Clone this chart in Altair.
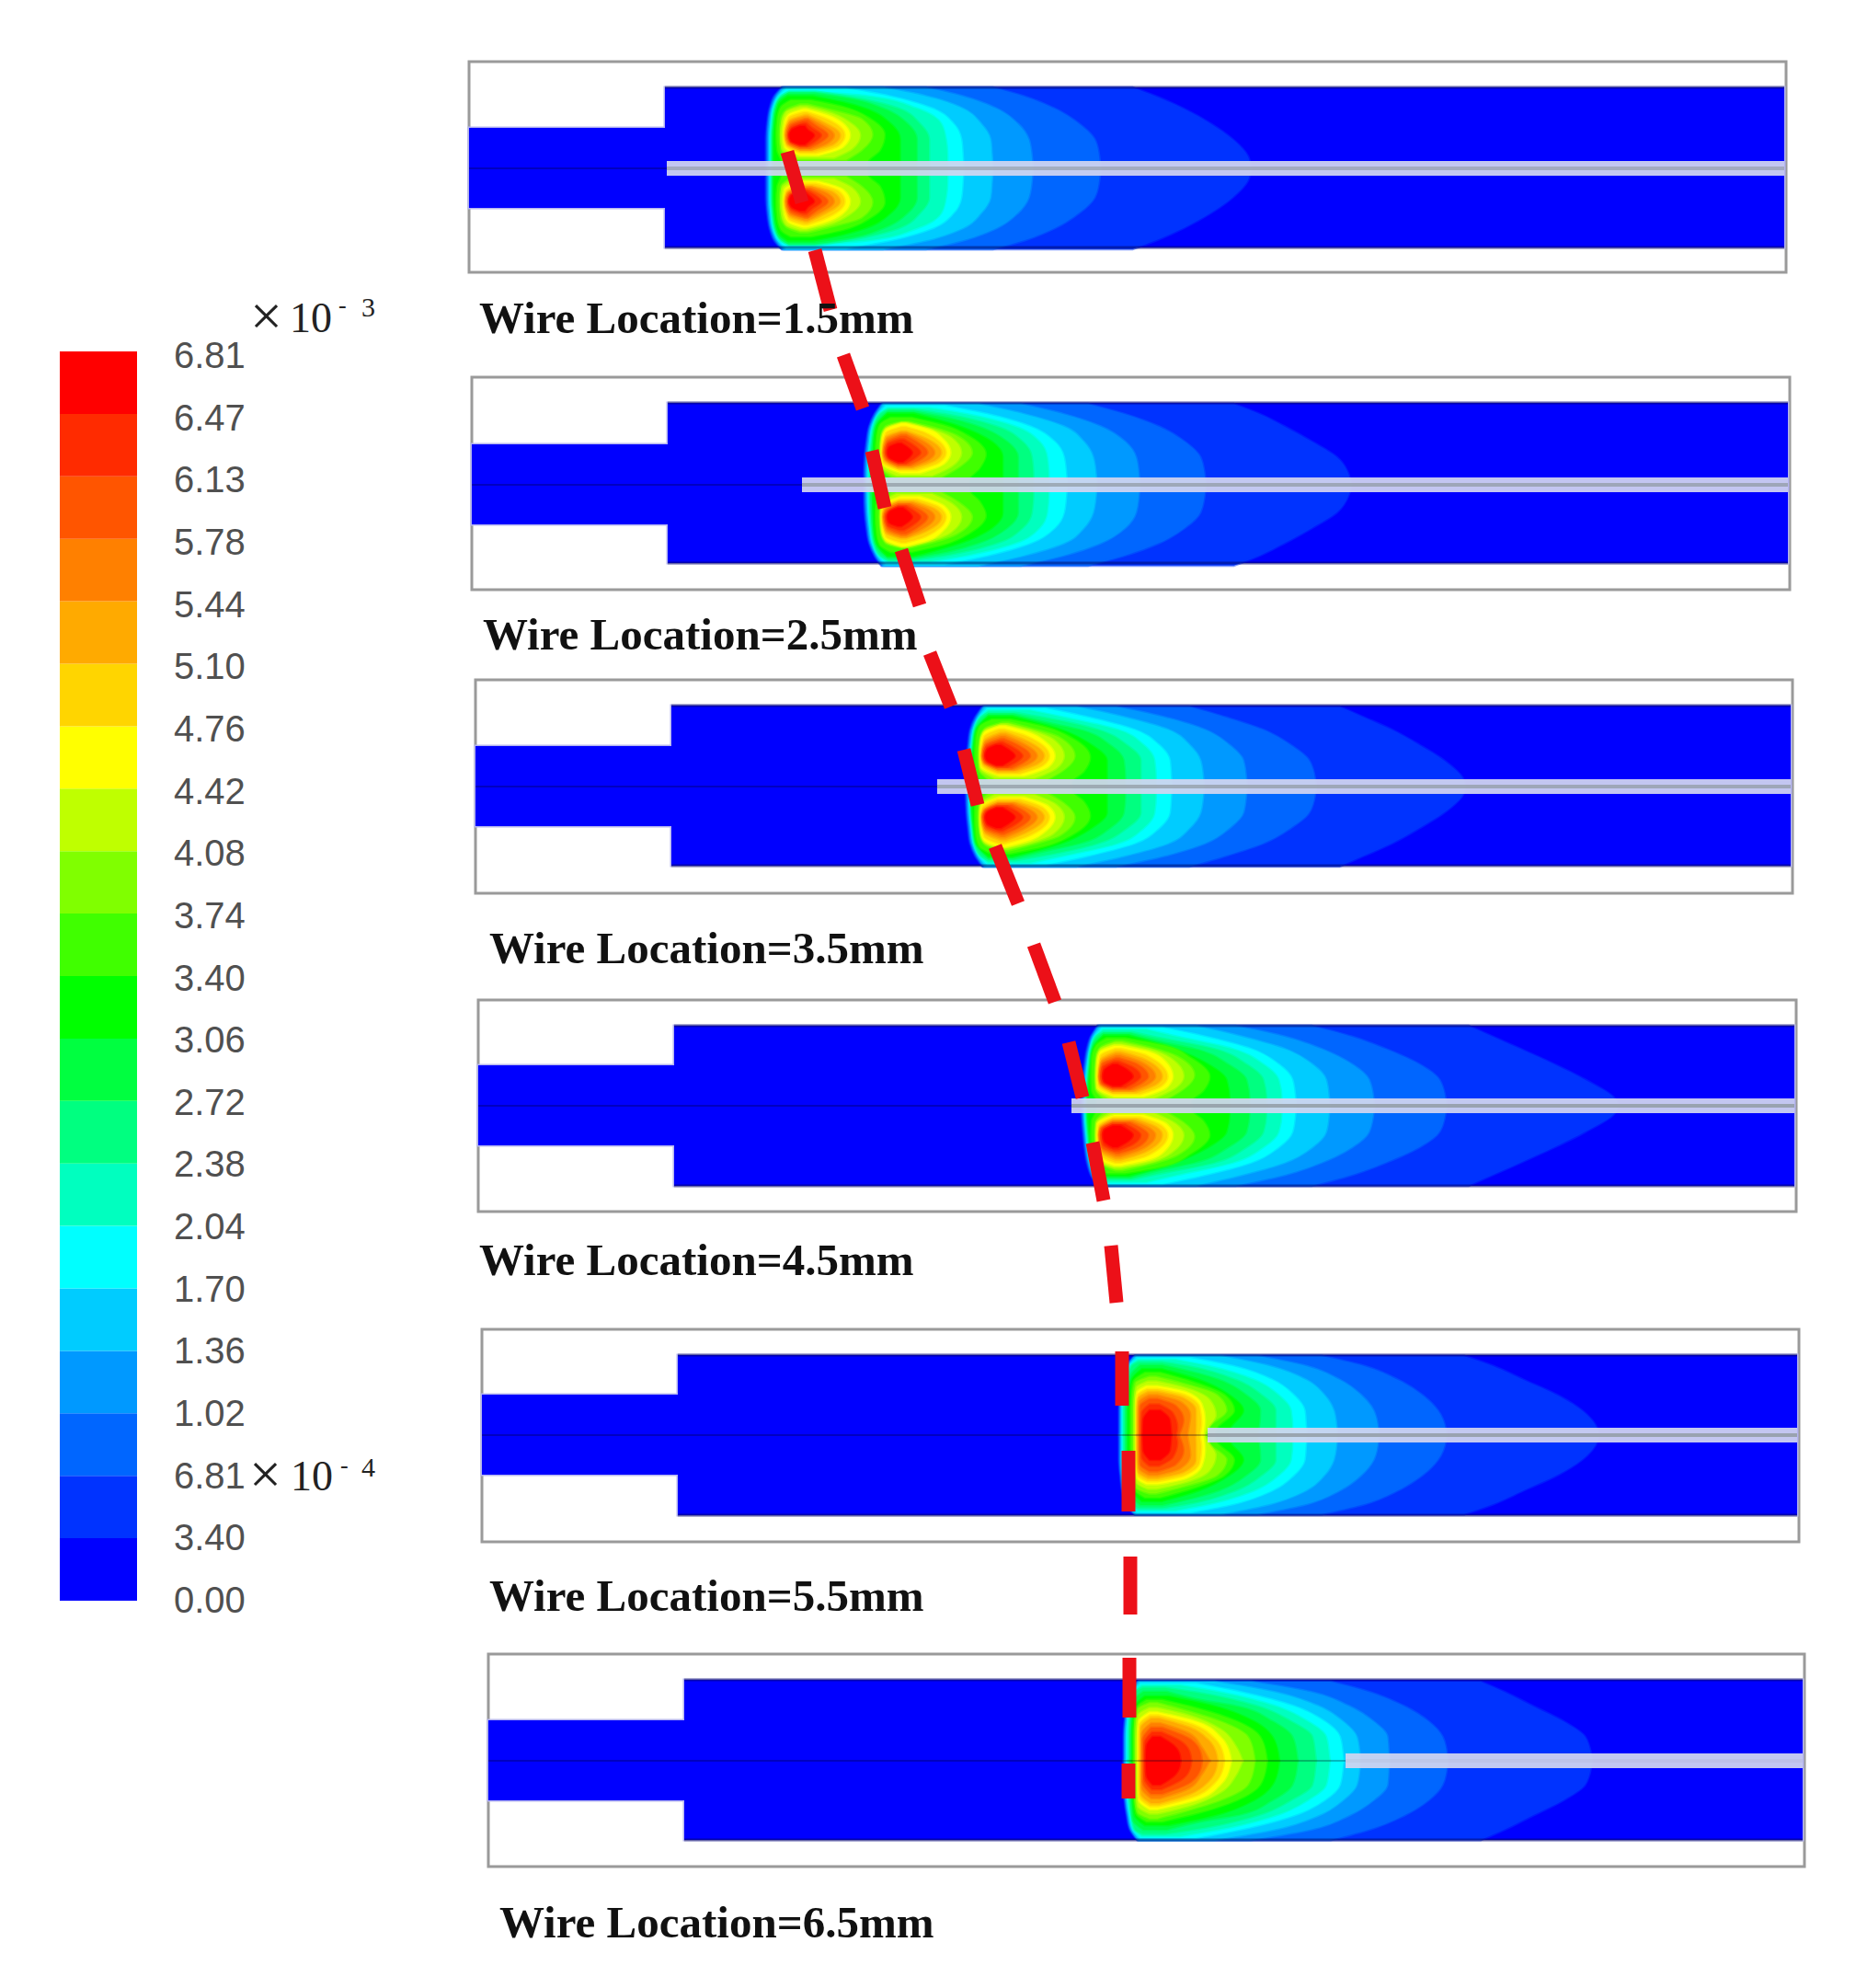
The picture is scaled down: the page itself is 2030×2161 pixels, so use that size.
import altair as alt
import pandas as pd

# colour bar
BAR_LABELS = ["6.81", "6.47", "6.13", "5.78", "5.44", "5.10", "4.76", "4.42", "4.08", "3.74", "3.40",
              "3.06", "2.72", "2.38", "2.04", "1.70", "1.36", "1.02", "6.81", "3.40", "0.00"]
BAND_COLORS = ["#0000ff", "#0033ff", "#0066ff", "#0099ff", "#00ccff", "#00ffff", "#00ffbf", "#00ff80",
               "#00ff40", "#00ff00", "#40ff00", "#80ff00", "#bfff00", "#ffff00", "#ffd500", "#ffaa00",
               "#ff8000", "#ff5500", "#ff2b00", "#ff0000"]

# panels, in pixels of the picture
WIRE_NAMES = ["Wire Location=1.5mm", "Wire Location=2.5mm", "Wire Location=3.5mm",
              "Wire Location=4.5mm", "Wire Location=5.5mm", "Wire Location=6.5mm"]
NAME_X = [521, 525, 532, 521, 532, 543]
NAME_Y = [362, 706, 1047, 1386, 1751, 2106]
BOX_LEFT = [510, 513, 517, 520, 524, 531]
BOX_RIGHT = [1942, 1946, 1949, 1953, 1956, 1962]
BOX_TOP = [67, 410, 739, 1087, 1445, 1798]
BOX_BOTTOM = [296, 641, 971, 1317, 1676, 2029]
CENTER = [183, 527, 855, 1202, 1560, 1914]
WIRE_START = [725, 872, 1019, 1165, 1313, 1463]
WIRE_CORE = [0.6, 0.7, 0.7, 0.8, 0.8, 0.1]
CROP_X = [820, 930, 1040, 1170, 1200, 1200]

P1 = {
    1: [(263, 90, 1235), (235, 65, 1310), (195, 50, 1400), (145, 42, 1490), (95, 38, 1560), (40, 38, 1610), (0, 38, 1620)],
    2: [(263, 92, 780), (235, 68, 880), (195, 53, 980), (145, 45, 1060), (95, 42, 1110), (40, 42, 1125), (0, 42, 1128)],
    3: [(263, 95, 560), (235, 72, 680), (195, 56, 790), (145, 48, 860), (95, 45, 895), (40, 45, 905), (0, 45, 908)],
    4: [(263, 98, 420), (235, 76, 560), (195, 59, 680), (145, 52, 740), (95, 49, 770), (40, 49, 775), (0, 49, 778)],
    5: [(260, 105, 300), (235, 80, 440), (195, 63, 580), (145, 56, 650), (95, 53, 675), (40, 53, 680), (0, 53, 682)],
    6: [(245, 110, 240), (235, 85, 370), (195, 65, 530), (145, 58, 610), (95, 55, 625), (40, 55, 630), (0, 55, 630)],
    7: [(250, 115, 200), (235, 90, 300), (195, 68, 470), (145, 61, 540), (95, 58, 570), (40, 58, 570), (0, 58, 570)],
    8: [(243, 112, 195), (225, 85, 320), (195, 72, 420), (145, 64, 500), (95, 61, 530), (40, 61, 530), (0, 61, 530)],
    9: [(235, 110, 190), (215, 85, 290), (195, 76, 360), (145, 68, 445), (95, 65, 475), (40, 65, 475), (0, 65, 475)],
    10: [(222, 120, 185), (200, 88, 290), (160, 76, 380), (110, 73, 425), (60, 76, 410), (20, 90, 370), (0, 90, 370)],
    11: [(208, 150, 175), (190, 105, 250), (160, 88, 350), (110, 84, 385), (60, 88, 350), (28, 130, 300)],
    12: [(200, 150, 170), (183, 105, 240), (150, 92, 310), (108, 88, 345), (65, 92, 320), (35, 140, 260)],
    13: [(193, 160, 170), (175, 112, 235), (150, 100, 285), (108, 96, 312), (70, 100, 290), (43, 150, 210)],
    14: [(183, 162, 172), (165, 113, 225), (108, 98, 295), (75, 104, 275), (50, 150, 200)],
    15: [(173, 165, 175), (155, 115, 215), (108, 102, 280), (80, 108, 260), (58, 150, 190)],
    16: [(165, 165, 175), (148, 116, 208), (108, 104, 260), (82, 110, 238), (62, 150, 185)],
    17: [(158, 165, 175), (140, 118, 200), (108, 108, 240), (85, 115, 215), (68, 150, 180)],
    18: [(148, 160, 170), (132, 120, 188), (108, 112, 218), (88, 118, 198), (73, 150, 172)],
    19: [(138, 150, 165), (125, 122, 175), (108, 115, 195), (90, 120, 180), (78, 150, 165)],
}
P2 = {
    1: [(263, 85, 1235), (230, 62, 1320), (190, 45, 1400), (140, 36, 1490), (90, 30, 1570), (25, 28, 1612), (0, 28, 1618)],
    2: [(263, 87, 760), (230, 64, 880), (190, 47, 990), (140, 38, 1075), (90, 33, 1125), (25, 31, 1140), (0, 31, 1142)],
    3: [(263, 90, 540), (230, 68, 680), (190, 50, 800), (140, 42, 880), (90, 37, 915), (25, 35, 925), (0, 35, 927)],
    4: [(263, 93, 400), (230, 71, 550), (190, 53, 680), (140, 45, 745), (90, 40, 775), (25, 38, 785), (0, 38, 787)],
    5: [(258, 100, 290), (230, 75, 430), (190, 57, 570), (140, 49, 650), (90, 44, 680), (25, 42, 688), (0, 42, 690)],
    6: [(250, 105, 240), (230, 78, 360), (190, 59, 520), (140, 51, 600), (90, 47, 625), (25, 45, 630), (0, 45, 630)],
    7: [(245, 110, 190), (230, 82, 290), (190, 62, 460), (140, 54, 545), (90, 50, 575), (25, 48, 580), (0, 48, 580)],
    8: [(238, 108, 190), (215, 80, 310), (190, 66, 400), (140, 58, 495), (90, 55, 530), (25, 53, 530), (0, 53, 530)],
    9: [(232, 105, 190), (190, 70, 340), (140, 62, 445), (90, 60, 480), (25, 58, 480), (0, 58, 480)],
    10: [(218, 115, 185), (195, 80, 285), (155, 70, 375), (100, 67, 425), (55, 69, 405), (15, 85, 370), (0, 85, 370)],
    11: [(205, 150, 175), (190, 100, 240), (160, 85, 330), (105, 80, 380), (60, 82, 340), (25, 120, 280)],
    12: [(202, 150, 170), (185, 100, 235), (155, 86, 310), (105, 82, 345), (62, 85, 315), (30, 135, 250)],
    13: [(200, 150, 165), (180, 100, 240), (150, 88, 285), (105, 85, 310), (70, 88, 290), (38, 150, 210)],
    14: [(188, 150, 165), (168, 100, 230), (105, 87, 295), (75, 90, 275), (48, 145, 200)],
    15: [(175, 150, 165), (155, 100, 220), (105, 90, 280), (80, 95, 260), (55, 140, 190)],
    16: [(168, 150, 165), (148, 102, 210), (105, 92, 258), (82, 98, 238), (60, 140, 182)],
    17: [(160, 150, 165), (140, 105, 200), (105, 95, 235), (85, 102, 215), (65, 140, 175)],
    18: [(148, 145, 158), (132, 106, 185), (105, 100, 212), (88, 106, 195), (70, 140, 165)],
    19: [(135, 140, 150), (122, 110, 170), (105, 105, 185), (90, 110, 175), (75, 140, 155)],
}
P3 = {
    1: [(260, 85, 1250), (225, 60, 1330), (185, 44, 1420), (135, 37, 1510), (85, 32, 1590), (20, 30, 1655), (0, 30, 1659)],
    2: [(260, 87, 760), (225, 63, 880), (185, 47, 1000), (135, 40, 1090), (85, 35, 1150), (20, 33, 1170), (0, 33, 1172)],
    3: [(260, 90, 520), (225, 67, 680), (185, 50, 810), (135, 43, 890), (85, 38, 935), (20, 36, 945), (0, 36, 947)],
    4: [(260, 93, 390), (225, 70, 550), (185, 53, 690), (135, 46, 760), (85, 41, 795), (20, 39, 805), (0, 39, 807)],
    5: [(255, 100, 290), (225, 74, 430), (185, 57, 580), (135, 50, 660), (85, 45, 695), (20, 43, 700), (0, 43, 702)],
    6: [(248, 103, 240), (225, 77, 350), (185, 58, 525), (135, 52, 610), (85, 47, 645), (20, 45, 650), (0, 45, 650)],
    7: [(240, 105, 190), (225, 80, 280), (185, 60, 460), (135, 53, 555), (85, 48, 600), (20, 46, 600), (0, 46, 600)],
    8: [(234, 105, 185), (205, 75, 310), (185, 63, 400), (135, 55, 500), (85, 50, 545), (20, 48, 550), (0, 48, 550)],
    9: [(228, 105, 180), (185, 66, 340), (135, 58, 440), (85, 53, 490), (20, 51, 490), (0, 51, 490)],
    10: [(218, 115, 175), (195, 75, 285), (155, 64, 380), (95, 61, 435), (50, 63, 415), (12, 80, 375), (0, 80, 375)],
    11: [(208, 150, 170), (190, 95, 240), (160, 78, 335), (100, 72, 385), (55, 75, 350), (20, 110, 290)],
    12: [(202, 145, 165), (183, 92, 240), (153, 79, 315), (100, 75, 350), (60, 78, 325), (28, 125, 255)],
    13: [(197, 140, 160), (175, 90, 240), (145, 80, 290), (100, 78, 320), (65, 80, 300), (35, 140, 220)],
    14: [(186, 140, 155), (162, 90, 232), (100, 80, 302), (70, 84, 282), (42, 135, 205)],
    15: [(175, 145, 160), (150, 92, 225), (100, 82, 285), (75, 88, 265), (50, 135, 195)],
    16: [(165, 145, 158), (142, 93, 212), (100, 84, 262), (78, 90, 242), (55, 135, 187)],
    17: [(155, 145, 155), (135, 95, 200), (100, 86, 240), (80, 92, 220), (60, 135, 180)],
    18: [(145, 140, 150), (127, 97, 185), (100, 90, 215), (82, 96, 197), (65, 130, 165)],
    19: [(135, 130, 145), (120, 100, 170), (100, 94, 190), (85, 100, 175), (70, 130, 150)],
}
P4 = {
    1: [(260, 70, 1280), (225, 48, 1360), (185, 35, 1450), (135, 27, 1560), (85, 22, 1660), (20, 18, 1760), (0, 18, 1767)],
    2: [(260, 72, 770), (225, 50, 900), (185, 38, 1010), (135, 30, 1120), (85, 25, 1185), (20, 21, 1205), (0, 21, 1207)],
    3: [(260, 75, 520), (225, 53, 680), (185, 41, 800), (135, 33, 900), (85, 28, 955), (20, 24, 970), (0, 24, 972)],
    4: [(260, 78, 390), (225, 56, 540), (185, 44, 680), (135, 36, 770), (85, 31, 815), (20, 27, 825), (0, 27, 827)],
    5: [(255, 85, 280), (225, 60, 420), (185, 47, 570), (135, 39, 660), (85, 34, 705), (20, 30, 715), (0, 30, 717)],
    6: [(248, 88, 230), (225, 63, 330), (185, 48, 510), (135, 41, 610), (85, 36, 660), (20, 32, 670), (0, 32, 670)],
    7: [(240, 90, 180), (225, 66, 250), (185, 50, 450), (135, 43, 555), (85, 38, 610), (20, 34, 620), (0, 34, 620)],
    8: [(234, 90, 175), (205, 60, 290), (185, 53, 385), (135, 46, 495), (85, 41, 555), (20, 37, 565), (0, 37, 565)],
    9: [(228, 90, 170), (185, 56, 320), (135, 49, 430), (85, 44, 490), (20, 40, 500), (0, 40, 500)],
    10: [(220, 100, 160), (197, 66, 285), (155, 52, 375), (95, 50, 435), (50, 52, 415), (12, 68, 375), (0, 68, 375)],
    11: [(210, 130, 150), (190, 80, 240), (160, 66, 330), (100, 62, 385), (55, 64, 350), (20, 95, 290)],
    12: [(202, 125, 148), (183, 78, 240), (153, 68, 310), (97, 65, 350), (58, 67, 322), (25, 110, 255)],
    13: [(195, 125, 145), (175, 78, 240), (145, 70, 290), (95, 68, 315), (60, 70, 295), (30, 125, 220)],
    14: [(185, 128, 145), (162, 80, 232), (95, 71, 298), (65, 74, 278), (38, 122, 208)],
    15: [(175, 130, 145), (150, 82, 225), (95, 74, 280), (70, 78, 260), (45, 120, 195)],
    16: [(165, 130, 143), (142, 83, 212), (95, 76, 258), (73, 80, 238), (50, 120, 185)],
    17: [(155, 130, 140), (135, 85, 200), (95, 78, 235), (75, 82, 215), (55, 120, 175)],
    18: [(145, 125, 138), (125, 88, 185), (95, 83, 210), (78, 87, 193), (60, 120, 160)],
    19: [(135, 120, 135), (115, 92, 170), (95, 88, 185), (80, 92, 170), (65, 120, 145)],
}
P5 = {
    1: [(258, 100, 1175), (225, 72, 1270), (180, 60, 1370), (130, 54, 1480), (80, 50, 1560), (20, 50, 1610), (0, 50, 1615)],
    2: [(258, 102, 710), (225, 75, 850), (180, 62, 960), (130, 56, 1040), (80, 52, 1090), (20, 52, 1115), (0, 52, 1117)],
    3: [(258, 104, 500), (225, 78, 660), (180, 65, 770), (130, 58, 840), (80, 55, 880), (20, 55, 895), (0, 55, 897)],
    4: [(258, 106, 380), (225, 80, 540), (180, 68, 660), (130, 61, 720), (80, 58, 750), (20, 58, 760), (0, 58, 762)],
    5: [(252, 110, 280), (225, 84, 420), (180, 72, 550), (130, 64, 620), (80, 61, 655), (20, 61, 660), (0, 61, 662)],
    6: [(245, 112, 235), (225, 88, 340), (180, 76, 490), (130, 68, 570), (80, 64, 610), (20, 64, 615), (0, 64, 615)],
    7: [(238, 115, 190), (225, 92, 270), (180, 80, 430), (130, 72, 515), (80, 68, 560), (20, 68, 560), (0, 68, 560)],
    8: [(228, 120, 190), (200, 92, 310), (180, 86, 375), (130, 78, 465), (80, 74, 510), (20, 74, 505), (0, 74, 500)],
    9: [(215, 125, 190), (180, 92, 310), (130, 84, 410), (80, 80, 455), (20, 80, 410), (0, 80, 405)],
    10: [(203, 135, 185), (175, 98, 285), (130, 90, 395), (80, 88, 425), (25, 88, 370), (0, 88, 360)],
    11: [(190, 150, 170), (170, 105, 250), (130, 98, 370), (80, 96, 400), (30, 96, 345), (0, 96, 335)],
    12: [(175, 145, 172), (155, 108, 260), (115, 102, 345), (65, 101, 365), (20, 101, 338), (0, 101, 330)],
    13: [(160, 140, 175), (140, 110, 270), (100, 106, 320), (50, 106, 330), (0, 106, 325)],
    14: [(150, 142, 175), (130, 112, 265), (90, 108, 312), (40, 108, 318), (0, 108, 312)],
    15: [(140, 145, 175), (120, 114, 260), (80, 110, 300), (30, 110, 300), (0, 110, 298)],
    16: [(130, 148, 175), (108, 117, 250), (65, 114, 282), (15, 114, 275), (0, 114, 272)],
    17: [(118, 150, 175), (95, 120, 235), (50, 118, 260), (0, 118, 245)],
    18: [(100, 150, 180), (72, 125, 225), (25, 123, 240), (0, 123, 235)],
    19: [(80, 150, 185), (50, 130, 215), (0, 128, 220)],
}
P6 = {
    1: [(258, 110, 1230), (223, 85, 1310), (178, 75, 1400), (128, 68, 1500), (78, 65, 1570), (18, 65, 1590), (0, 65, 1593)],
    2: [(258, 112, 740), (223, 87, 870), (178, 77, 980), (128, 70, 1060), (78, 67, 1105), (18, 67, 1120), (0, 67, 1122)],
    3: [(258, 114, 480), (223, 90, 680), (178, 80, 800), (128, 73, 880), (78, 70, 925), (18, 70, 930), (0, 70, 932)],
    4: [(258, 116, 360), (223, 92, 560), (178, 82, 700), (128, 75, 780), (78, 72, 825), (18, 72, 835), (0, 72, 837)],
    5: [(252, 120, 300), (223, 96, 450), (178, 86, 620), (128, 79, 720), (78, 76, 770), (18, 76, 780), (0, 76, 782)],
    6: [(245, 124, 250), (223, 99, 380), (178, 89, 560), (128, 82, 665), (78, 80, 725), (18, 80, 735), (0, 80, 737)],
    7: [(238, 128, 200), (223, 102, 300), (178, 92, 500), (128, 86, 610), (78, 84, 680), (18, 84, 690), (0, 84, 692)],
    8: [(225, 130, 205), (195, 97, 330), (178, 94, 430), (128, 91, 550), (78, 89, 615), (18, 89, 630), (0, 89, 632)],
    9: [(210, 135, 210), (178, 102, 360), (128, 96, 490), (78, 94, 550), (18, 94, 570), (0, 94, 572)],
    10: [(198, 140, 190), (172, 107, 300), (128, 100, 435), (78, 98, 510), (18, 98, 530), (0, 98, 532)],
    11: [(188, 150, 175), (168, 112, 250), (128, 104, 380), (78, 102, 470), (18, 102, 490), (0, 102, 492)],
    12: [(172, 150, 175), (148, 113, 275), (103, 108, 380), (48, 107, 430), (0, 107, 452)],
    13: [(158, 150, 175), (128, 115, 300), (78, 112, 380), (18, 112, 412), (0, 112, 415)],
    14: [(148, 152, 178), (118, 118, 290), (73, 116, 360), (18, 116, 390), (0, 116, 392)],
    15: [(138, 155, 180), (108, 122, 280), (68, 120, 340), (18, 120, 368), (0, 120, 370)],
    16: [(122, 155, 185), (88, 125, 280), (43, 124, 320), (0, 124, 345)],
    17: [(108, 155, 190), (68, 128, 285), (18, 128, 318), (0, 128, 320)],
    18: [(93, 158, 188), (58, 134, 258), (18, 133, 283), (0, 133, 285)],
    19: [(78, 160, 185), (48, 140, 230), (18, 138, 248), (0, 138, 250)],
}
PANELS = [P1, P2, P3, P4, P5, P6]

# red dashed guide
DASH_X1 = [856, 886, 917, 948, 980, 1011, 1048, 1082, 1124, 1162, 1188, 1208, 1220, 1227, 1229, 1228, 1227]
DASH_Y1 = [165, 272, 386, 490, 598, 710, 815, 920, 1027, 1133, 1242, 1354, 1469, 1577, 1692, 1802, 1917]
DASH_X2 = [872, 903, 938, 962, 1000, 1034, 1063, 1107, 1147, 1177, 1200, 1214, 1220, 1227, 1229, 1228, 1227]
DASH_Y2 = [220, 337, 444, 552, 658, 768, 875, 982, 1089, 1193, 1305, 1416, 1528, 1643, 1755, 1867, 1955]

# build tables
rows = []
for p, panel in enumerate(PANELS):
    for level in sorted(panel):
        contour = panel[level]
        for side in [-1, 1]:
            ordered = contour if side < 0 else contour[::-1]
            for h, left, right in ordered:
                rows.append({
                    "series": f"{p}-{level:02d}-{side}",
                    "level": level,
                    "y": CENTER[p] + side * h / 3,
                    "xl": CROP_X[p] + left / 3,
                    "xr": CROP_X[p] + right / 3,
                })
contours = pd.DataFrame(rows)

panels = pd.DataFrame({
    "left": BOX_LEFT, "right": BOX_RIGHT, "top": BOX_TOP, "bottom": BOX_BOTTOM,
    "center": CENTER, "wire": WIRE_START, "core": WIRE_CORE, "name": WIRE_NAMES, "nx": NAME_X, "ny": NAME_Y,
})
panels["step"] = panels["left"] + 213
panels["end"] = panels["right"] - 2
panels["ctop"] = panels["top"] + 28
panels["cbottom"] = panels["top"] + 202
panels["itop"] = panels["center"] - 44
panels["ibottom"] = panels["center"] + 43
panels["wtop"] = panels["center"] - 8
panels["wbottom"] = panels["center"] + 8

BAR_TOP, BAR_BOTTOM = 382, 1740
band_h = (BAR_BOTTOM - BAR_TOP) / 20
bar = pd.DataFrame({
    "level": list(range(20)),
    "y1": [BAR_BOTTOM - i * band_h for i in range(20)],
    "y2": [BAR_BOTTOM - (i + 1) * band_h for i in range(20)],
    "x1": [65] * 20,
    "x2": [149] * 20,
})
label_step = (1741 - 388) / 20
bar_text = pd.DataFrame({
    "label": BAR_LABELS,
    "x": [189] * 21,
    "y": [388 + i * label_step for i in range(21)],
})
dashes = pd.DataFrame({"x1": DASH_X1, "y1": DASH_Y1, "x2": DASH_X2, "y2": DASH_Y2})

x_scale = alt.Scale(domain=[8, 2022], nice=False, zero=False)
y_scale = alt.Scale(domain=[2148, 8], nice=False, zero=False)
color_scale = alt.Scale(domain=list(range(20)), range=BAND_COLORS)


def X(f):
    return alt.X(f, type="quantitative", scale=x_scale, axis=None)


def Y(f):
    return alt.Y(f, type="quantitative", scale=y_scale, axis=None)


box = alt.Chart(panels).mark_rect(fill="white", stroke="#9a9a9a", strokeWidth=3).encode(
    x=X("left"), x2="right", y=Y("top"), y2="bottom")
# lavender halo first, so the inlet and the channel join without a seam
inlet_halo = alt.Chart(panels).mark_rect(fill="#0000ff", stroke="#b4b4f0", strokeWidth=3).encode(
    x=X("left"), x2="step", y=Y("itop"), y2="ibottom")
channel_halo = alt.Chart(panels).mark_rect(fill="#0000ff", stroke="#b4b4f0", strokeWidth=3).encode(
    x=X("step"), x2="end", y=Y("ctop"), y2="cbottom")
inlet = alt.Chart(panels).mark_rect(fill="#0000ff").encode(
    x=X("left"), x2="step", y=Y("itop"), y2="ibottom")
channel = alt.Chart(panels).mark_rect(fill="#0000ff").encode(
    x=X("step"), x2="end", y=Y("ctop"), y2="cbottom")

plume = alt.Chart(contours).mark_area(
    orient="horizontal", interpolate="monotone", strokeWidth=3, strokeOpacity=0.5
).encode(
    y=Y("y"),
    x=X("xl"),
    x2="xr",
    detail="series:N",
    color=alt.Color("level:O", scale=color_scale, legend=None),
    stroke=alt.Stroke("level:O", scale=color_scale, legend=None),
)

wall_top = alt.Chart(panels).mark_rule(color="#000050", opacity=0.45, strokeWidth=3).encode(
    x=X("step"), x2="end", y=Y("ctop"))
wall_bottom = alt.Chart(panels).mark_rule(color="#000050", opacity=0.45, strokeWidth=3).encode(
    x=X("step"), x2="end", y=Y("cbottom"))
axis_line = alt.Chart(panels).mark_rule(color="#00001e", opacity=0.28, strokeWidth=2).encode(
    x=X("left"), x2="wire", y=Y("center"))
wire = alt.Chart(panels).mark_rect(fill="#d2d5f0", opacity=0.93).encode(
    x=X("wire"), x2="end", y=Y("wtop"), y2="wbottom")
wire_core = alt.Chart(panels).mark_rule(color="#8f98a0", strokeWidth=4).encode(
    x=X("wire"), x2="end", y=Y("center"),
    opacity=alt.Opacity("core:Q", scale=None, legend=None))

guide = alt.Chart(dashes).mark_rule(color="#ec1018", strokeWidth=15).encode(
    x=X("x1"), x2="x2", y=Y("y1"), y2="y2")

bar_rects = alt.Chart(bar).mark_rect().encode(
    x=X("x1"), x2="x2", y=Y("y1"), y2="y2",
    color=alt.Color("level:O", scale=color_scale, legend=None),
)
bar_labels = alt.Chart(bar_text).mark_text(
    align="left", baseline="middle", font="Liberation Sans", fontSize=40, color="#505050"
).encode(x=X("x"), y=Y("y"), text="label:N")

names = alt.Chart(panels).mark_text(
    align="left", baseline="alphabetic", font="Liberation Serif", fontWeight="bold", fontSize=49, color="#111111"
).encode(x=X("nx"), y=Y("ny"), text="name:N")

# the two multipliers, set by hand as in the figure
power = pd.DataFrame({
    "text": ["×", "10", "-", "3", "×", "10", "-", "4"],
    "x": [272, 315, 368, 393, 271, 316, 370, 393],
    "y": [364, 361, 340, 344, 1623, 1620, 1601, 1605],
    "size": [62, 46, 26, 30, 62, 46, 26, 30],
})
power_text = alt.Chart(power).mark_text(
    align="left", baseline="alphabetic", font="Liberation Serif", color="#222222"
).encode(
    x=X("x"), y=Y("y"), text="text:N",
    size=alt.Size("size:Q", scale=None, legend=None),
)

chart = alt.layer(
    box, inlet_halo, channel_halo, inlet, channel, plume, wall_top, wall_bottom, axis_line, wire, wire_core,
    guide, bar_rects, bar_labels, names, power_text,
).properties(
    width=2014, height=2140, autosize=alt.AutoSizeParams(type="none"), padding=0,
).configure_view(stroke=None)

chart.save("out.html", embed_options={"renderer": "svg", "actions": False})
